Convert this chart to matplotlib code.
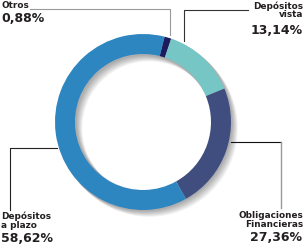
import matplotlib
matplotlib.use("Agg")
import matplotlib.pyplot as plt
from matplotlib.patches import Wedge

# Datos (orden horario desde arriba)
categorias = ["Otros", "Depósitos\nvista", "Obligaciones\nFinancieras", "Depósitos\na plazo"]
etiquetas_pct = ["0,88%", "13,14%", "27,36%", "58,62%"]
# Los arcos del original no siguen exactamente los porcentajes impresos;
# se usan las proporciones medidas sobre la imagen.
arco = [1.25, 13.6, 23.1, 62.05]
colores = ["#1c1b5e", "#76c6c5", "#3f4e7e", "#2e86c1"]

W, H = 305, 249
CX, CY, R, ANCHO = 143, 122, 88, 20


def yy(y):
    # pixel (desde arriba) -> coordenada de datos
    return H - y


fig = plt.figure(figsize=(W / 100, H / 100), dpi=100)
ax = fig.add_axes([0, 0, 1, 1])

# sombra suave del anillo
for k in range(1, 8):
    ax.add_patch(Wedge((CX + k * 0.9, yy(CY) - k * 0.9), R + 0.5, 0, 360, width=ANCHO + 1.5,
                       facecolor="#000000", alpha=0.05, edgecolor="none", zorder=1))

ax.pie(arco, colors=colores, startangle=90 - 14.2, counterclock=False,
       center=(CX, yy(CY)), radius=R, frame=True,
       wedgeprops=dict(width=ANCHO, edgecolor="none", zorder=2))

tinta = "#231f20"
gris = "#9a9a9a"
lw = 0.8

# líneas guía
ax.plot([30, 170, 170], [yy(9), yy(9), yy(35)], color=gris, lw=lw)
ax.plot([248, 184, 184], [yy(10), yy(10), yy(41)], color="#333333", lw=lw)
ax.plot([231, 281], [yy(142), yy(142)], color="#111111", lw=lw)
ax.plot([281, 281], [yy(142), yy(208)], color=gris, lw=1.0)
ax.plot([57, 10, 10], [yy(148), yy(148), yy(210)], color="#222222", lw=lw)

fn = "DejaVu Sans"
sn, sp = 6.4, 9.0

ax.text(2, yy(0.5), categorias[0], ha="left", va="top", fontsize=sn, fontweight="bold", color=tinta, family=fn)
ax.text(1, yy(12), etiquetas_pct[0], ha="left", va="top", fontsize=sp, fontweight="bold", color=tinta, family=fn)

ax.text(303, yy(1), categorias[1], ha="right", va="top", fontsize=sn, fontweight="bold", color=tinta,
        family=fn, linespacing=0.95, multialignment="right")
ax.text(303, yy(23.5), etiquetas_pct[1], ha="right", va="top", fontsize=sp, fontweight="bold", color=tinta, family=fn)

ax.text(303, yy(211), categorias[2], ha="right", va="top", fontsize=sn, fontweight="bold", color=tinta,
        family=fn, linespacing=0.95, multialignment="right")
ax.text(302, yy(231), etiquetas_pct[2], ha="right", va="top", fontsize=sp, fontweight="bold", color=tinta, family=fn)

ax.text(1, yy(211.5), categorias[3], ha="left", va="top", fontsize=sn, fontweight="bold", color=tinta,
        family=fn, linespacing=0.95)
ax.text(1, yy(232), etiquetas_pct[3], ha="left", va="top", fontsize=sp, fontweight="bold", color=tinta, family=fn)

ax.set_xlim(0, W)
ax.set_ylim(0, H)
ax.set_aspect("equal")
ax.axis("off")

fig.savefig("out.png", dpi=100)
